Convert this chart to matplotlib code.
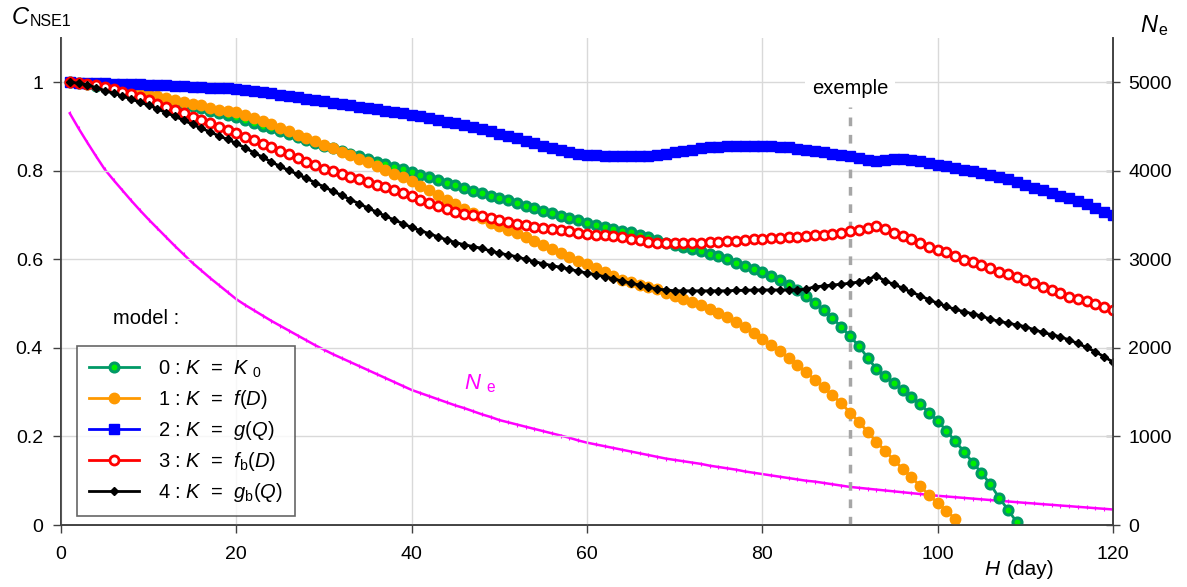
import matplotlib
matplotlib.use("Agg")
import matplotlib.pyplot as plt
import numpy as np

plt.rcParams['font.family'] = ['Liberation Sans', 'DejaVu Sans']
plt.rcParams['mathtext.fontset'] = 'custom'
plt.rcParams['mathtext.rm'] = 'Liberation Sans'
plt.rcParams['mathtext.it'] = 'Liberation Sans:italic'

# data (H in days)
c_k0 = [1.000, 0.998, 0.995, 0.992, 0.989, 0.985, 0.981, 0.977, 0.972, 0.967,
        0.963, 0.959, 0.955, 0.950, 0.946, 0.941, 0.936, 0.931, 0.926, 0.921,
        0.915, 0.909, 0.902, 0.896, 0.889, 0.883, 0.876, 0.869, 0.863, 0.857,
        0.851, 0.845, 0.839, 0.833, 0.827, 0.821, 0.815, 0.809, 0.803, 0.797,
        0.791, 0.785, 0.779, 0.773, 0.767, 0.761, 0.755, 0.750, 0.744, 0.738,
        0.733, 0.727, 0.721, 0.716, 0.710, 0.705, 0.699, 0.694, 0.688, 0.683,
        0.678, 0.674, 0.669, 0.665, 0.661, 0.656, 0.650, 0.644, 0.638, 0.633,
        0.628, 0.623, 0.618, 0.613, 0.607, 0.600, 0.592, 0.585, 0.578, 0.571,
        0.563, 0.553, 0.542, 0.530, 0.518, 0.502, 0.486, 0.467, 0.448, 0.426,
        0.405, 0.378, 0.353, 0.336, 0.320, 0.305, 0.290, 0.273, 0.254, 0.235,
        0.213, 0.189, 0.166, 0.141, 0.118, 0.092, 0.062, 0.035, 0.007, -0.025]
c_fD = [1.000, 0.999, 0.997, 0.994, 0.991, 0.988, 0.984, 0.980, 0.976, 0.972,
        0.968, 0.964, 0.960, 0.956, 0.952, 0.948, 0.943, 0.938, 0.935, 0.932,
        0.926, 0.919, 0.912, 0.905, 0.897, 0.890, 0.882, 0.875, 0.867, 0.859,
        0.851, 0.843, 0.835, 0.827, 0.819, 0.810, 0.802, 0.793, 0.785, 0.776,
        0.766, 0.756, 0.745, 0.735, 0.725, 0.714, 0.704, 0.693, 0.683, 0.675,
        0.667, 0.659, 0.651, 0.642, 0.633, 0.624, 0.615, 0.606, 0.597, 0.589,
        0.580, 0.571, 0.562, 0.554, 0.548, 0.543, 0.538, 0.532, 0.525, 0.518,
        0.511, 0.504, 0.496, 0.488, 0.479, 0.469, 0.459, 0.447, 0.433, 0.420,
        0.407, 0.392, 0.377, 0.362, 0.345, 0.328, 0.311, 0.293, 0.275, 0.254,
        0.233, 0.211, 0.188, 0.168, 0.147, 0.127, 0.108, 0.088, 0.068, 0.050,
        0.032, 0.014, -0.020]
c_gQ = [1.000, 0.999, 0.999, 0.998, 0.998, 0.997, 0.997, 0.996, 0.995, 0.994,
        0.993, 0.993, 0.992, 0.991, 0.990, 0.989, 0.988, 0.987, 0.986, 0.984,
        0.982, 0.980, 0.977, 0.975, 0.972, 0.969, 0.966, 0.963, 0.960, 0.957,
        0.954, 0.951, 0.948, 0.945, 0.942, 0.939, 0.936, 0.933, 0.930, 0.927,
        0.923, 0.919, 0.915, 0.911, 0.907, 0.903, 0.898, 0.894, 0.889, 0.884,
        0.879, 0.873, 0.868, 0.862, 0.857, 0.852, 0.848, 0.843, 0.839, 0.836,
        0.835, 0.834, 0.834, 0.834, 0.834, 0.834, 0.834, 0.836, 0.839, 0.842,
        0.845, 0.848, 0.851, 0.853, 0.854, 0.855, 0.855, 0.855, 0.855, 0.855,
        0.855, 0.854, 0.853, 0.850, 0.847, 0.844, 0.842, 0.839, 0.836, 0.833,
        0.829, 0.825, 0.823, 0.825, 0.827, 0.827, 0.825, 0.822, 0.818, 0.814,
        0.810, 0.806, 0.802, 0.799, 0.795, 0.791, 0.786, 0.781, 0.775, 0.769,
        0.762, 0.756, 0.750, 0.744, 0.738, 0.731, 0.724, 0.716, 0.708, 0.700]
c_fbD = [1.000, 0.999, 0.996, 0.993, 0.989, 0.984, 0.979, 0.973, 0.966, 0.959,
         0.952, 0.945, 0.937, 0.930, 0.922, 0.915, 0.907, 0.900, 0.892, 0.885,
         0.877, 0.869, 0.861, 0.853, 0.845, 0.837, 0.829, 0.821, 0.813, 0.805,
         0.799, 0.793, 0.787, 0.781, 0.775, 0.769, 0.763, 0.757, 0.750, 0.742,
         0.734, 0.727, 0.720, 0.713, 0.707, 0.703, 0.700, 0.697, 0.693, 0.689,
         0.685, 0.681, 0.678, 0.674, 0.671, 0.668, 0.666, 0.663, 0.660, 0.658,
         0.656, 0.654, 0.652, 0.650, 0.647, 0.643, 0.640, 0.637, 0.637, 0.637,
         0.637, 0.638, 0.638, 0.639, 0.640, 0.641, 0.642, 0.644, 0.646, 0.647,
         0.648, 0.649, 0.650, 0.651, 0.652, 0.654, 0.656, 0.658, 0.660, 0.663,
         0.666, 0.670, 0.676, 0.668, 0.659, 0.653, 0.646, 0.637, 0.628, 0.622,
         0.616, 0.607, 0.599, 0.594, 0.588, 0.580, 0.572, 0.567, 0.561, 0.553,
         0.546, 0.538, 0.531, 0.523, 0.516, 0.511, 0.506, 0.500, 0.493, 0.486]
c_gbQ = [1.000, 0.998, 0.994, 0.988, 0.981, 0.975, 0.969, 0.962, 0.955, 0.948,
         0.940, 0.931, 0.923, 0.914, 0.905, 0.896, 0.888, 0.879, 0.871, 0.862,
         0.852, 0.841, 0.831, 0.820, 0.810, 0.801, 0.792, 0.783, 0.773, 0.764,
         0.754, 0.745, 0.735, 0.726, 0.716, 0.707, 0.698, 0.689, 0.681, 0.672,
         0.665, 0.658, 0.651, 0.644, 0.638, 0.633, 0.629, 0.625, 0.619, 0.614,
         0.610, 0.606, 0.600, 0.595, 0.590, 0.586, 0.582, 0.578, 0.573, 0.569,
         0.565, 0.561, 0.556, 0.551, 0.546, 0.542, 0.537, 0.533, 0.531, 0.529,
         0.529, 0.529, 0.529, 0.529, 0.529, 0.529, 0.530, 0.530, 0.531, 0.531,
         0.531, 0.531, 0.531, 0.531, 0.533, 0.538, 0.540, 0.542, 0.544, 0.546,
         0.549, 0.554, 0.563, 0.551, 0.544, 0.535, 0.526, 0.518, 0.509, 0.501,
         0.494, 0.487, 0.482, 0.477, 0.472, 0.465, 0.460, 0.456, 0.452, 0.448,
         0.441, 0.435, 0.430, 0.425, 0.418, 0.410, 0.401, 0.391, 0.380, 0.368]
ne = [4650, 4480, 4320, 4165, 4015, 3895, 3780, 3665, 3555, 3450,
      3350, 3250, 3150, 3055, 2960, 2875, 2790, 2710, 2630, 2550,
      2485, 2425, 2365, 2305, 2250, 2195, 2140, 2085, 2030, 1980,
      1930, 1885, 1840, 1795, 1750, 1705, 1660, 1615, 1570, 1525,
      1490, 1455, 1420, 1385, 1350, 1320, 1285, 1250, 1220, 1185,
      1160, 1135, 1110, 1085, 1060, 1035, 1010, 985, 955, 930,
      910, 890, 870, 850, 830, 810, 790, 770, 750, 735,
      720, 705, 690, 670, 655, 640, 625, 605, 590, 575,
      560, 545, 530, 515, 500, 490, 475, 460, 445, 430,
      420, 410, 400, 390, 380, 370, 360, 350, 340, 330,
      322, 314, 306, 298, 290, 282, 274, 266, 258, 250,
      243, 235, 228, 220, 213, 205, 198, 190, 183, 175]

labels = [r"0 : $K$  =  $K$ $_{\rm 0}$",
          r"1 : $K$  =  $f$($D$)",
          r"2 : $K$  =  $g$($Q$)",
          r"3 : $K$  =  $f$$_{\rm b}$($D$)",
          r"4 : $K$  =  $g$$_{\rm b}$($Q$)"]

W, H = 1187, 587
fig = plt.figure(figsize=(W / 100, H / 100), dpi=100)
ax = fig.add_axes([61 / W, 1 - 525 / H, (1113 - 61) / W, (525 - 38) / H])
ax2 = ax.twinx()
ax.set_zorder(ax2.get_zorder() + 1)
ax.patch.set_visible(False)

days = lambda s: np.arange(1, len(s) + 1)

# Ne on right axis
ax2.plot(days(ne), ne, color='#ff00ff', lw=1.8, marker='|', ms=3, mew=0.8)
ax2.set_ylim(0, 5500)
ax2.set_yticks(range(0, 5001, 1000))

h0, = ax.plot(days(c_k0), c_k0, color='#009966', lw=2, marker='o', ms=6.5,
              mfc='#00ee00', mec='#009966', mew=2.2)
h1, = ax.plot(days(c_fD), c_fD, color='#ff9900', lw=2, marker='o', ms=7.5,
              mfc='#ff9900', mec='#ff9900')
h2, = ax.plot(days(c_gQ), c_gQ, color='#0000ff', lw=2, marker='s', ms=6.5,
              mfc='#0000ff', mec='#0000ff')
h3, = ax.plot(days(c_fbD), c_fbD, color='#ff0000', lw=2, marker='o', ms=6.5,
              mfc='white', mec='#ff0000', mew=2)
h4, = ax.plot(days(c_gbQ), c_gbQ, color='black', lw=2, marker='D', ms=4.5,
              mfc='black', mec='black')

ax.set_xlim(0, 120)
ax.set_ylim(0, 1.1)
ax.set_xticks(range(0, 121, 20))
ax.set_yticks([0, 0.2, 0.4, 0.6, 0.8, 1.0])
ax.set_yticklabels(['0', '0.2', '0.4', '0.6', '0.8', '1'])
ax.grid(True, color='#d9d9d9', lw=1)
ax.set_axisbelow(True)

for a in (ax, ax2):
    a.spines['top'].set_visible(False)
    for s in a.spines.values():
        s.set_color('#404040')
        s.set_linewidth(1.2)
ax.tick_params(axis='both', labelsize=14, length=6, width=1, color='#404040', pad=7)
ax.tick_params(axis='x', pad=9)
ax2.tick_params(axis='y', labelsize=14, direction='inout', length=10, width=1,
                color='#404040', pad=6)

# exemple marker at H = 90
ax.plot([90, 90], [0, 0.945], color='#a6a6a6', lw=2.5, ls=(0, (2.5, 2.5)), zorder=1)
ax.text(90.0, 0.985, 'exemple', fontsize=14.5, ha='center', va='center',
        bbox=dict(facecolor='white', edgecolor='none', pad=5))
ax.text(9.7, 0.466, 'model :', fontsize=14.5, ha='center', va='center')
ax.text(46.0, 0.32, r"$N$ $_{\rm e}$", fontsize=16, color='#ff00ff', ha='left', va='center')

leg = ax.legend([h0, h1, h2, h3, h4], labels, loc='lower left',
                bbox_to_anchor=(77 / W, 1 - 516 / H), bbox_transform=fig.transFigure,
                fontsize=14.5, frameon=True, fancybox=False, handlelength=2.5,
                borderpad=0.6, labelspacing=0.4, borderaxespad=0, handletextpad=0.9)
leg.get_frame().set_edgecolor('#404040')
leg.get_frame().set_linewidth(1.2)

# axis titles
fig.text(11 / W, 1 - 24 / H, r"$C$", fontsize=17, ha='left', va='baseline')
fig.text(30 / W, 1 - 26 / H, "NSE1", fontsize=11.5, ha='left', va='baseline')
fig.text(1140 / W, 1 - 32 / H, r"$N$", fontsize=17, ha='left', va='baseline')
fig.text(1158 / W, 1 - 35 / H, "e", fontsize=11.5, ha='left', va='baseline')
fig.text(984 / W, 1 - 575 / H, r"$H$", fontsize=15, ha='left', va='baseline')
fig.text(1007 / W, 1 - 575 / H, "(day)", fontsize=15, ha='left', va='baseline')

fig.savefig('out.png', dpi=100)
